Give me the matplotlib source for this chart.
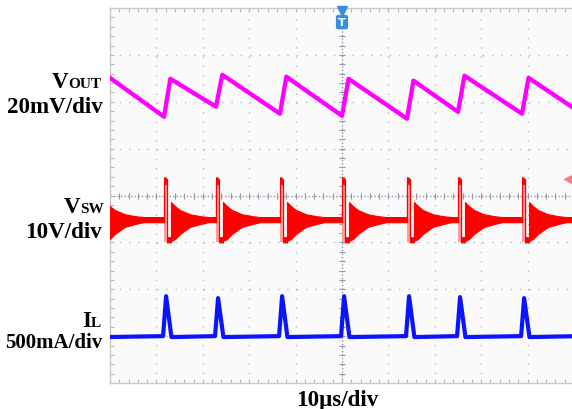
import numpy as np
import matplotlib.pyplot as plt

# switching instants (us)
sw_times = [-2.4, 11.64, 22.84, 36.64, 50.0, 64.0, 75.0, 88.8]
t_on = 0.65      # high pulse width (us)
t_ring = 1.5     # ringing starts this long after the switch (us)

# VOUT ripple corners (us, mV)
vout_t = [0, 11.64, 13.0, 22.84, 24.2, 36.64, 38.0, 50.0, 51.4, 64.0, 65.4, 75.0, 76.4, 88.8, 90.2, 100]
vout_mv = [10.2, -6.4, 9.8, -2.1, 11.5, -5.1, 10.7, -6.0, 9.8, -7.2, 9.0, -4.3, 11.1, -5.1, 10.2, -2.8]

# Vsw band levels (V): [upper, lower]
sw_high = [13.4, 12.2]
sw_low = [0.6, -0.5]
sw_idle = [4.9, 3.8]
# ringing envelope (us after ring start, V)
ring_dt = [0, 0.86, 1.94, 4.1, 6.25, 8.0]
ring_hi = [8.1, 7.25, 6.4, 5.5, 5.1, 4.9]
ring_lo = [-0.2, 0.2, 1.3, 2.8, 3.4, 3.8]

# inductor current peaks (mA), one per switching event
il_peak = [426, 426, 405, 426, 426, 426, 416, 405]
il_rise = -0.2   # us, start of ramp
il_top = 0.45    # us, peak
il_end = 1.6     # us, back to zero

# channel offsets (div from bottom) and scales
vout_off, vout_scale = 6.0, 20.0
vsw_off, vsw_scale = 3.05, 10.0
il_off, il_scale = 1.0, 500.0

# build Vsw band
t_sw, hi_sw, lo_sw = [], [], []
for i, ts in enumerate(sw_times):
    tn = sw_times[i + 1] if i + 1 < len(sw_times) else 101
    t_sw += [ts, ts + t_on, ts + t_on, ts + t_ring]
    hi_sw += [sw_high[0], sw_high[0] - 0.4, sw_low[0], sw_low[0]]
    lo_sw += [sw_high[1], sw_high[1] - 0.4, sw_low[1], sw_low[1]]
    for dt, h, l in zip(ring_dt, ring_hi, ring_lo):
        t_sw.append(ts + t_ring + dt)
        hi_sw.append(h)
        lo_sw.append(l)
    t_sw += [tn]
    hi_sw += [sw_idle[0]]
    lo_sw += [sw_idle[1]]
t_sw = np.array(t_sw)
hi_sw = vsw_off + np.array(hi_sw) / vsw_scale
lo_sw = vsw_off + np.array(lo_sw) / vsw_scale

# build IL trace
t_il, i_il = [-5], [0]
for ts, pk in zip(sw_times, il_peak):
    t_il += [ts + il_rise, ts + il_top, ts + il_end]
    i_il += [0, pk, -10]
t_il.append(101)
i_il.append(0)
y_il = il_off + np.array(i_il) / il_scale

y_vout = vout_off + np.array(vout_mv) / vout_scale

fig = plt.figure(figsize=(5.72, 4.1), dpi=100)
ax = fig.add_axes([110 / 572, 26 / 410, 464 / 572, 375 / 410])
ax.set_facecolor('#fafafa')
ax.set_xlim(0, 100)
ax.set_ylim(0, 8)

grid_c = '#b8b8b8'
for x in range(10, 100, 10):
    if x != 50:
        ax.axvline(x, color=grid_c, lw=1, ls=(0, (1, 5.7)), zorder=1)
for y in range(1, 8):
    if y != 4:
        ax.axhline(y, color=grid_c, lw=1, ls=(0, (1, 5.7)), zorder=1)
# centre cross with fine ticks
cc = '#9494aa'
ax.axvline(50, color=cc, lw=1, ls=(0, (1, 1.5)), zorder=1)
ax.axhline(4, color=cc, lw=1, ls=(0, (1, 1.5)), zorder=1)
ax.plot(np.arange(0, 101, 2), np.full(51, 4.0), '|', ms=5, color=cc, mew=0.8, zorder=1)
ax.plot(np.full(41, 50.0), np.arange(0, 8.01, 0.2), '_', ms=5, color=cc, mew=0.8, zorder=1)

ax.set_xticks([])
ax.set_yticks([])
ax.set_xticks(np.arange(0, 101, 2), minor=True)
ax.set_yticks(np.arange(0, 8.01, 0.2), minor=True)
ax.tick_params(which='minor', direction='in', length=3, width=0.8, color='#b8b8b8',
               top=True, bottom=True, left=True, right=False,
               labelbottom=False, labelleft=False)
for s in ax.spines.values():
    s.set_color('#c8c8c8')
    s.set_linewidth(1)

# traces
ax.plot(vout_t, y_vout, color='#ff00ff', lw=3.1, solid_joinstyle='round', zorder=4)

for ts in sw_times:
    ax.fill_between([ts, ts + t_on], vsw_off + sw_low[1] / vsw_scale,
                    vsw_off + sw_high[0] / vsw_scale, color='#ff9c9c', lw=0, zorder=3)
ax.fill_between(t_sw, lo_sw, hi_sw, facecolor='#ff0000', edgecolor='#ff0000', lw=0.8, zorder=4)

ax.plot(t_il, y_il, color='#0a14ff', lw=3.0, solid_joinstyle='round', zorder=4)

# trigger markers
ax.plot([50], [7.93], marker='v', ms=7, color='#3a8ee0', clip_on=False, zorder=6)
ax.text(50, 7.7, 'T', ha='center', va='center', color='white', fontsize=8, fontweight='bold',
        bbox=dict(boxstyle='round,pad=0.2', fc='#3a8ee0', ec='none'), zorder=6)
ax.plot([98.6], [4.35], marker='<', ms=6, color='#ff7a7a', zorder=6)
ax.plot([98.6, 100], [4.35, 4.35], color='#ff7a7a', lw=1.5, zorder=6)

# channel labels
font = dict(family='Liberation Serif', fontweight='bold', color='black')
big, small = 16.6, 11


def fx(px):
    return px / 572


def fy(py):
    return 1 - py / 410


fig.text(fx(68), fy(88), 'V', ha='right', va='baseline', fontsize=big, **font)
fig.text(fx(68), fy(88), 'OUT', ha='left', va='baseline', fontsize=small, **font)
fig.text(fx(103), fy(113), '20mV/div', ha='right', va='baseline', fontsize=big, **font)

fig.text(fx(80), fy(213), 'V', ha='right', va='baseline', fontsize=big, **font)
fig.text(fx(80), fy(213), 'SW', ha='left', va='baseline', fontsize=small, **font)
fig.text(fx(102), fy(238), '10V/div', ha='right', va='baseline', fontsize=big, **font)

fig.text(fx(91), fy(327), 'I', ha='right', va='baseline', fontsize=big, **font)
fig.text(fx(91), fy(327), 'L', ha='left', va='baseline', fontsize=small, **font)
fig.text(fx(102), fy(348), '500mA/div', ha='right', va='baseline', fontsize=15, **font)

fig.text(fx(337), fy(406), '10μs/div', ha='center', va='baseline', fontsize=big, **font)

plt.savefig('out.png', dpi=100)
